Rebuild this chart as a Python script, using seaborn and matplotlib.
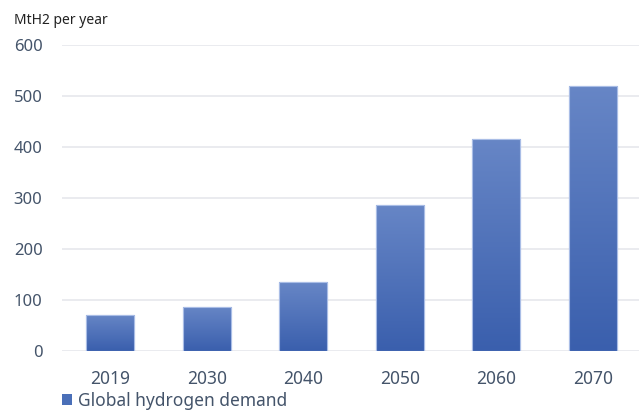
import numpy as np
import pandas as pd
import matplotlib
matplotlib.use("Agg")
import matplotlib.pyplot as plt
import seaborn as sns
from matplotlib.patches import Patch
from matplotlib.colors import LinearSegmentedColormap

years = ["2019", "2030", "2040", "2050", "2060", "2070"]
demand = [71, 87, 135, 287, 416, 520]
series_name = "Global hydrogen demand"
y_ticks = [0, 100, 200, 300, 400, 500, 600]

sns.set_theme(style="white")
plt.rcParams['font.family'] = ['Noto Sans', 'DejaVu Sans']

df = pd.DataFrame({"year": years, "demand": demand})

fig = plt.figure(figsize=(6.39, 4.12), dpi=100)
ax = fig.add_axes([62/639, (412-351)/412, (641-62)/639, (351-45)/412])

sns.barplot(data=df, x="year", y="demand", ax=ax, color="#4A6FB8",
            width=0.5, edgecolor="#9DB3E0", linewidth=0.8, saturation=1)

ax.set_ylim(0, 600)
ax.set_yticks(y_ticks)
ax.set_xlim(-0.5, len(years) - 0.5)
ax.grid(axis="y", color="#E8E9EE", linewidth=1.3)
ax.set_axisbelow(True)
for s in ax.spines.values():
    s.set_visible(False)
ax.set_xlabel("")
ax.set_ylabel("")
ax.tick_params(axis="y", colors="#44546A", labelsize=12, pad=14, length=0)
ax.tick_params(axis="x", colors="#44546A", labelsize=12.5, pad=14, length=0)

# gradient fill in each bar
cmap = LinearSegmentedColormap.from_list("g", ["#3A5FAD", "#6786C6"])
grad = np.linspace(0, 1, 256).reshape(-1, 1)
for p in ax.patches:
    x0, y0 = p.get_x(), p.get_y()
    w, h = p.get_width(), p.get_height()
    im = ax.imshow(grad, extent=[x0, x0 + w, y0, y0 + h], origin="lower",
                   cmap=cmap, aspect="auto", zorder=p.get_zorder() + 0.1)
    im.set_clip_path(p)
    edge = plt.Rectangle((x0, y0), w, h, fill=False, edgecolor="#A9BDE6",
                         linewidth=0.8, zorder=p.get_zorder() + 0.2)
    ax.add_patch(edge)
ax.set_xlim(-0.5, len(years) - 0.5)
ax.set_ylim(0, 600)

fig.text(14/639, 1 - 20/412, "MtH2 per year", fontsize=10, color="#222222",
         va="center", ha="left")

fig.legend(handles=[Patch(facecolor="#4A6FB8", edgecolor="none", label=series_name)],
           loc="center left", bbox_to_anchor=(46/639, 1 - 401/412), frameon=False,
           handlelength=0.6, handleheight=0.6, handletextpad=0.35,
           fontsize=12.5, labelcolor="#44546A")

fig.savefig("out.png", dpi=100)
